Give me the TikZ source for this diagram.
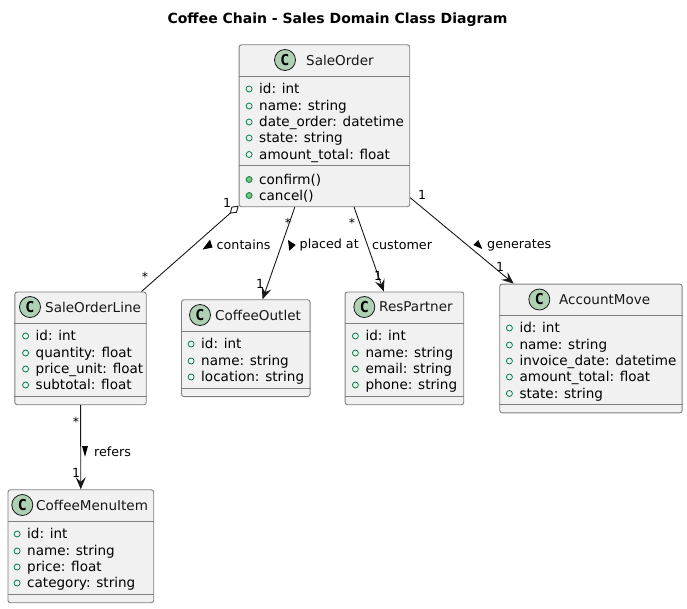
\documentclass[tikz,border=0pt]{standalone}
\usepackage{fontspec}
\setmainfont{DejaVu Sans}
\newfontfamily\spotfont{DejaVu Sans Mono}
\usetikzlibrary{arrows.meta}
\definecolor{boxfill}{HTML}{F1F1F1}
\definecolor{boxline}{HTML}{7F7F7F}
\definecolor{inkline}{HTML}{181818}
\definecolor{spotfill}{HTML}{ADD1B2}
\definecolor{fieldline}{HTML}{038048}
\definecolor{methodfill}{HTML}{84BE84}
\tikzset{
  classbox/.style={draw=boxline,fill=boxfill,line width=0.9pt,rounded corners=2.5pt,inner sep=0pt,anchor=north west},
  spot/.style={circle,draw=inkline,fill=spotfill,line width=0.8pt,minimum size=21pt,inner sep=0pt,font=\fontsize{15}{16}\selectfont\spotfont\bfseries},
  classname/.style={anchor=west,inner sep=0pt,text=inkline,font=\fontsize{13.55}{16}\selectfont},
  sep/.style={draw=boxline,line width=0.9pt},
  member/.style={anchor=west,inner sep=0pt,text height=10.5pt,text depth=1pt,text=black,font=\fontsize{13.55}{16}\selectfont,
    label={[fielddot,label distance=6.5pt]180:}},
  method/.style={anchor=west,inner sep=0pt,text height=10.5pt,text depth=1pt,text=black,font=\fontsize{13.55}{16}\selectfont,
    label={[methoddot,label distance=6.5pt]180:}},
  fielddot/.style={circle,draw=fieldline,line width=0.8pt,minimum size=6pt,inner sep=0pt},
  methoddot/.style={circle,draw=fieldline,fill=methodfill,line width=0.8pt,minimum size=6pt,inner sep=0pt},
  link/.style={draw=inkline,line width=0.9pt},
  edgetext/.style={anchor=west,inner sep=0pt,text=black,font=\fontsize{12.7}{15}\selectfont},
  mult/.style={inner sep=0pt,text=black,font=\fontsize{12.5}{15}\selectfont},
  dirmark/.style={fill=black}
}
\begin{document}
\begin{tikzpicture}[x=1pt,y=-1pt]
  \useasboundingbox (0,0) rectangle (687,608);
  \node[inner sep=0pt,font=\fontsize{14}{16}\selectfont\bfseries] (title) at (337.5,19.5) {Coffee Chain - Sales Domain Class Diagram};

  % SaleOrder
  \node[classbox,minimum width=170.6pt,minimum height=162pt] (saleorder) at (238.7,44.3) {};
  \draw[sep] (saleorder.west |- 0,76.3) -- (saleorder.east |- 0,76.3);
  \draw[sep] (saleorder.west |- 0,165.3) -- (saleorder.east |- 0,165.3);
  \node[spot] (saleorderc) at (285,60) {C};
  \node[classname] (saleordern) at (306,60) {SaleOrder};
  \node[member] (so1) at (259,89) {id: int};
  \node[member] (so2) at (259,106) {name: string};
  \node[member] (so3) at (259,122) {date\_order: datetime};
  \node[member] (so4) at (259,138) {state: string};
  \node[member] (so5) at (259,154.5) {amount\_total: float};
  \node[method] (so6) at (259,179.5) {confirm()};
  \node[method] (so7) at (259,195.5) {cancel()};

  % SaleOrderLine
  \node[classbox,minimum width=131.4pt,minimum height=112.8pt] (saleorderline) at (14.4,291.5) {};
  \draw[sep] (saleorderline.west |- 0,323.4) -- (saleorderline.east |- 0,323.4);
  \draw[sep] (saleorderline.west |- 0,396.3) -- (saleorderline.east |- 0,396.3);
  \node[spot] (saleorderlinec) at (30,307) {C};
  \node[classname] (saleorderlinen) at (45,307) {SaleOrderLine};
  \node[member] (sl1) at (35.5,336) {id: int};
  \node[member] (sl2) at (35.5,353) {quantity: float};
  \node[member] (sl3) at (35.5,369) {price\_unit: float};
  \node[member] (sl4) at (35.5,385) {subtotal: float};

  % CoffeeOutlet
  \node[classbox,minimum width=128.6pt,minimum height=96.8pt] (coffeeoutlet) at (181,299.3) {};
  \draw[sep] (coffeeoutlet.west |- 0,331.6) -- (coffeeoutlet.east |- 0,331.6);
  \draw[sep] (coffeeoutlet.west |- 0,388.3) -- (coffeeoutlet.east |- 0,388.3);
  \node[spot] (coffeeoutletc) at (200,315) {C};
  \node[classname] (coffeeoutletn) at (215,315) {CoffeeOutlet};
  \node[member] (co1) at (201,344) {id: int};
  \node[member] (co2) at (201,361) {name: string};
  \node[member] (co3) at (201,377) {location: string};

  % ResPartner
  \node[classbox,minimum width=118.6pt,minimum height=112.8pt] (respartner) at (344.7,291.5) {};
  \draw[sep] (respartner.west |- 0,323.4) -- (respartner.east |- 0,323.4);
  \draw[sep] (respartner.west |- 0,396.3) -- (respartner.east |- 0,396.3);
  \node[spot] (respartnerc) at (364.3,307) {C};
  \node[classname] (respartnern) at (379,307) {ResPartner};
  \node[member] (rp1) at (365.3,336) {id: int};
  \node[member] (rp2) at (365.3,353) {name: string};
  \node[member] (rp3) at (365.3,369) {email: string};
  \node[member] (rp4) at (365.3,385) {phone: string};

  % AccountMove
  \node[classbox,minimum width=182.4pt,minimum height=128.8pt] (accountmove) at (499.3,283.6) {};
  \draw[sep] (accountmove.west |- 0,315.6) -- (accountmove.east |- 0,315.6);
  \draw[sep] (accountmove.west |- 0,404.3) -- (accountmove.east |- 0,404.3);
  \node[spot] (accountmovec) at (539.3,299.5) {C};
  \node[classname] (accountmoven) at (559,299.5) {AccountMove};
  \node[member] (am1) at (519.3,328) {id: int};
  \node[member] (am2) at (519.3,345) {name: string};
  \node[member] (am3) at (519.3,361) {invoice\_date: datetime};
  \node[member] (am4) at (519.3,377) {amount\_total: float};
  \node[member] (am5) at (519.3,393.5) {state: string};

  % CoffeeMenuItem
  \node[classbox,minimum width=145.8pt,minimum height=113pt] (coffeemenuitem) at (7.5,489.3) {};
  \draw[sep] (coffeemenuitem.west |- 0,521.3) -- (coffeemenuitem.east |- 0,521.3);
  \draw[sep] (coffeemenuitem.west |- 0,594.3) -- (coffeemenuitem.east |- 0,594.3);
  \node[spot] (coffeemenuitemc) at (22.3,505) {C};
  \node[classname] (coffeemenuitemn) at (36,505) {CoffeeMenuItem};
  \node[member] (mi1) at (27,534) {id: int};
  \node[member] (mi2) at (27,551) {name: string};
  \node[member] (mi3) at (27,567) {price: float};
  \node[member] (mi4) at (27,583) {category: string};

  % links
  \draw[link,-{Diamond[open,fill=white,length=12pt,width=8pt]}] (saleorderline.43) -- (saleorder.223);
  \draw[link,-{Stealth[length=12pt,width=10pt,inset=4.5pt]}] (saleorder.-110) -- (coffeeoutlet.71);
  \draw[link,-{Stealth[length=12pt,width=10pt,inset=4.5pt]}] (saleorder.-70) -- (respartner.110);
  \draw[link,-{Stealth[length=12pt,width=10pt,inset=4.5pt]}] (saleorder.-40) -- (accountmove.140);
  \draw[link,-{Stealth[length=12pt,width=10pt,inset=4.5pt]}] (saleorderline) -- (coffeemenuitem);

  % labels
  \node[mult] (m1) at (227,203) {1};
  \node[mult] (m2) at (145,277) {*};
  \node[mult] (m3) at (288,223) {*};
  \node[mult] (m4) at (260,284) {1};
  \node[mult] (m5) at (352,223) {*};
  \node[mult] (m6) at (378,276) {1};
  \node[mult] (m7) at (422,195) {1};
  \node[mult] (m8) at (500,267) {1};
  \node[mult] (m9) at (76,422) {*};
  \node[mult] (m10) at (76,473) {1};

  \node[edgetext] (contains) at (216.5,245) {contains};
  \node[edgetext] (placed) at (299.5,245) {placed at};
  \node[edgetext] (customer) at (372,245) {customer};
  \node[edgetext] (generates) at (487,245) {generates};
  \node[edgetext] (refers) at (94,451.5) {refers};
  \fill[dirmark] (210,239.5) -- (202.5,249.5) -- (212.5,247.5) -- cycle;
  \fill[dirmark] (288,240) -- (295.7,245) -- (289.3,250.7) -- cycle;
  \fill[dirmark] (473.3,245) -- (478.3,240) -- (482.3,249) -- cycle;
  \fill[dirmark] (82,446) -- (88,446) -- (85,456.7) -- cycle;
\end{tikzpicture}
\end{document}
